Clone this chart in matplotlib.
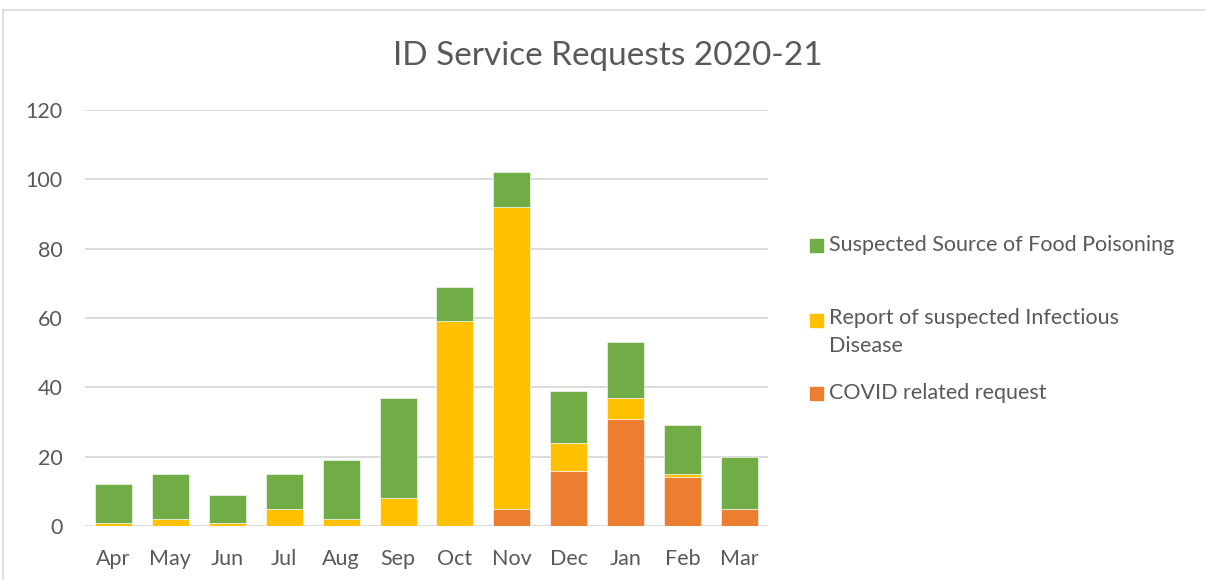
import matplotlib.pyplot as plt
import numpy as np
from matplotlib.patches import Rectangle
from matplotlib.lines import Line2D

months = ["Apr", "May", "Jun", "Jul", "Aug", "Sep", "Oct", "Nov", "Dec", "Jan", "Feb", "Mar"]
covid = [0, 0, 0, 0, 0, 0, 0, 5, 16, 31, 14, 5]
infectious = [1, 2, 1, 5, 2, 8, 59, 87, 8, 6, 1, 0]
food = [11, 13, 8, 10, 17, 29, 10, 10, 15, 16, 14, 15]

labels = ["COVID related request", "Report of suspected Infectious\nDisease",
          "Suspected Source of Food Poisoning"]
colors = ["#ED7D31", "#FFC000", "#70AD47"]
text_color = "#595959"

plt.rcParams["font.family"] = ["Lato", "DejaVu Sans"]

W, H = 1206, 580
fig = plt.figure(figsize=(W / 100, H / 100), dpi=100)
ax = fig.add_axes([85 / W, 1 - 526 / H, (768 - 85) / W, (526 - 110) / H])

x = np.arange(len(months))
covid = np.array(covid)
infectious = np.array(infectious)
food = np.array(food)
ax.bar(x, covid, width=0.65, color=colors[0], edgecolor="white", linewidth=0.4, zorder=3)
ax.bar(x, infectious, bottom=covid, width=0.65, color=colors[1], edgecolor="white", linewidth=0.4, zorder=3)
ax.bar(x, food, bottom=covid + infectious, width=0.65, color=colors[2], edgecolor="white", linewidth=0.4, zorder=3)

ax.set_xlim(-0.5, len(months) - 0.5)
ax.set_ylim(0, 120)
ax.set_yticks(range(0, 121, 20))
ax.set_xticks(x)
ax.set_xticklabels(months)
ax.grid(axis="y", color="#D9D9D9", linewidth=1.3, zorder=0)
for s in ax.spines.values():
    s.set_visible(False)
ax.tick_params(axis="both", length=0, labelsize=15.5, colors=text_color)
ax.tick_params(axis="x", pad=16.5)
ax.tick_params(axis="y", pad=16)

fig.text(608 / W, 1 - 56 / H, "ID Service Requests 2020-21", ha="center", va="center",
         fontsize=24, color=text_color)

# legend, drawn top to bottom: food, infectious, covid
leg_y = [245, 320, 393]
for yy, lab, col in zip(leg_y, labels[::-1], colors[::-1]):
    fig.patches.append(Rectangle((810 / W, 1 - (yy + 7) / H), 13 / W, 13 / H,
                                 transform=fig.transFigure, color=col))
    if "\n" in lab:
        fig.text(829 / W, 1 - (yy - 12) / H, lab, ha="left", va="top",
                 fontsize=15.5, color=text_color, linespacing=1.5)
    else:
        fig.text(829 / W, 1 - yy / H, lab, ha="left", va="center",
                 fontsize=15.5, color=text_color)

# chart area border (partly cropped)
fig.lines.append(Line2D([3 / W, 1], [1 - 10 / H, 1 - 10 / H], transform=fig.transFigure,
                        color="#D9D9D9", linewidth=1.2))
fig.lines.append(Line2D([3 / W, 3 / W], [0, 1 - 10 / H], transform=fig.transFigure,
                        color="#D9D9D9", linewidth=1.2))

fig.savefig("out.png", dpi=100)
